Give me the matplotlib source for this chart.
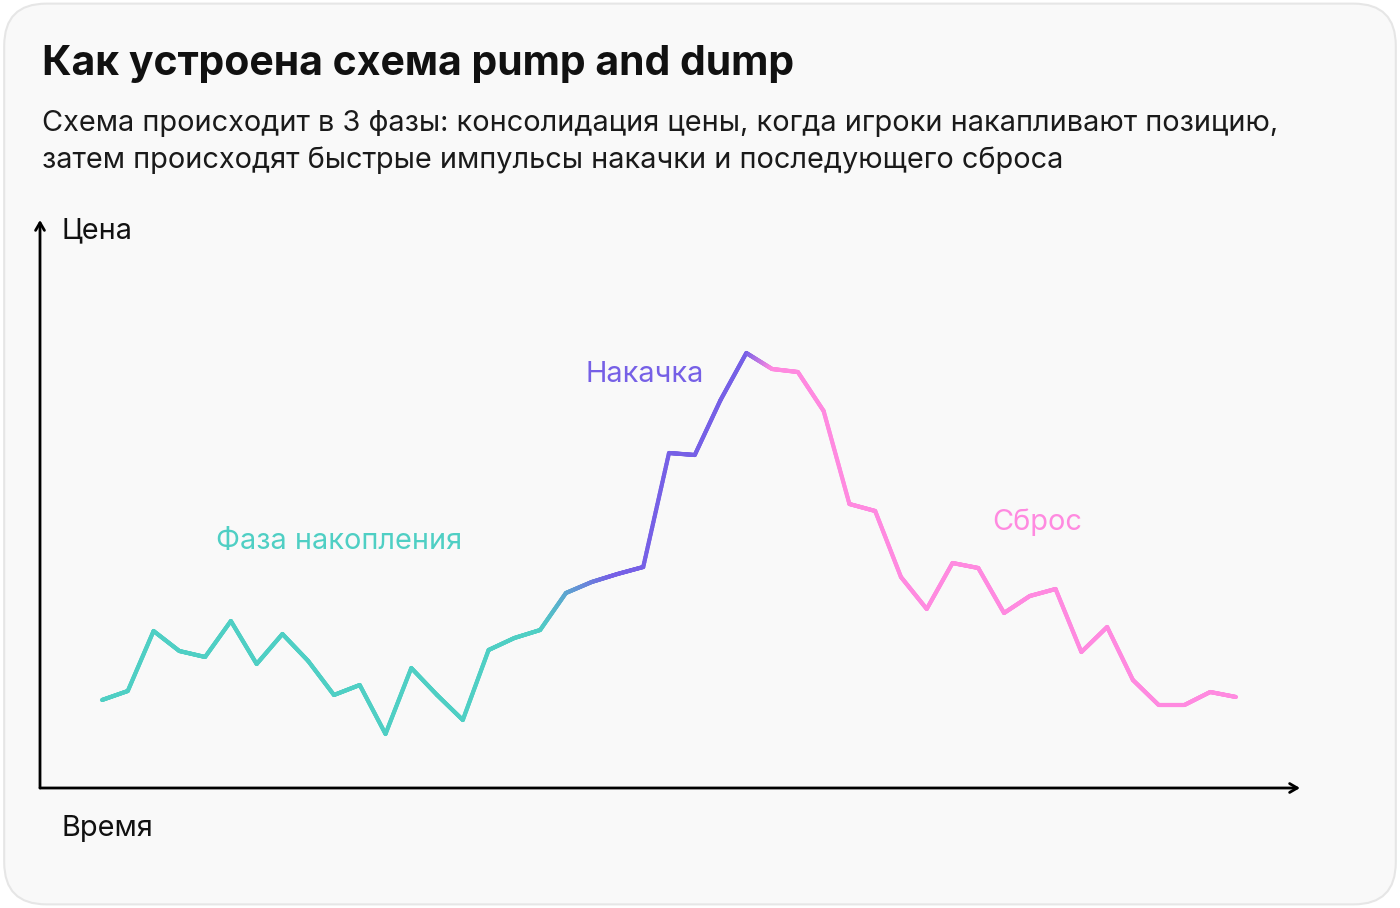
import matplotlib

matplotlib.use("Agg")
import matplotlib.pyplot as plt
import numpy as np
from matplotlib.collections import LineCollection
from matplotlib.colors import to_rgb
from matplotlib.patches import FancyBboxPatch

plt.rcParams["font.family"] = ["Inter", "DejaVu Sans"]

title = "Как устроена схема pump and dump"
subtitle = ("Схема происходит в 3 фазы: консолидация цены, когда игроки накапливают позицию,\n"
            "затем происходят быстрые импульсы накачки и последующего сброса")
y_label = "Цена"
x_label = "Время"

# price path (arbitrary units), one point per time step
price = [8.8, 9.7, 15.7, 13.7, 13.1, 16.7, 12.4, 15.4, 12.7, 9.3,
         10.3, 5.4, 12.0, 9.3, 6.8, 13.8, 15.0, 15.8, 19.5, 20.6,
         21.4, 22.1, 33.5, 33.3, 38.8, 43.5, 41.9, 41.6, 37.7, 28.4,
         27.7, 21.1, 17.9, 22.5, 22.0, 17.5, 19.2, 19.9, 13.6, 16.1,
         10.8, 8.3, 8.3, 9.6, 9.1]

phase_names = ["Фаза накопления", "Накачка", "Сброс"]
phase_colors = ["#4fcfc4", "#7660e6", "#ff8ae0"]
# colour stops along the time axis: (step, colour index)
color_stops = [(0, 0), (17, 0), (19.8, 1), (25, 1), (26, 2), (44, 2)]
phase_label_pos = [(9.2, 24.6), (21.05, 41.3), (36.3, 26.6)]

fig = plt.figure(figsize=(14, 9.08), dpi=100)
fig.patch.set_facecolor("white")
card = FancyBboxPatch((0.003, 0.004), 0.994, 0.992,
                      boxstyle="round,pad=0,rounding_size=0.03",
                      transform=fig.transFigure, facecolor="#f9f9f9",
                      edgecolor="#e6e6e6", linewidth=1.5, mutation_aspect=1400 / 908,
                      zorder=-5)
fig.patches.append(card)

fig.text(42 / 1400, 1 - 64 / 908, title, fontsize=29.5, fontweight="bold",
         color="#111111", va="center", ha="left")
fig.text(42 / 1400, 1 - 142 / 908, subtitle, fontsize=20.8, color="#1a1a1a",
         va="center", ha="left", linespacing=1.42)

ax = fig.add_axes([40 / 1400, 120 / 908, 1260 / 1400, 568 / 908])
ax.patch.set_visible(False)
x = np.arange(len(price))
ax.set_xlim(-62 / 25.77, 44 + 64 / 25.77)
ax.set_ylim(0, 56.8)
for s in ax.spines.values():
    s.set_visible(False)
ax.set_xticks([])
ax.set_yticks([])

# gradient line: split each segment into short pieces, colour by time position
stop_x = [s[0] for s in color_stops]
stop_rgb = np.array([to_rgb(phase_colors[s[1]]) for s in color_stops])
xs = np.linspace(x[0], x[-1], 2000)
fine_x = np.unique(np.concatenate([xs, x]))
fine_y = np.interp(fine_x, x, price)
pts = np.column_stack([fine_x, fine_y])
segs = np.stack([pts[:-1], pts[1:]], axis=1)
mid = (fine_x[:-1] + fine_x[1:]) / 2
cols = np.column_stack([np.interp(mid, stop_x, stop_rgb[:, i]) for i in range(3)])
lc = LineCollection(segs, colors=cols, linewidths=3.0, capstyle="round", joinstyle="round")
ax.add_collection(lc)

for name, col, (px, py) in zip(phase_names, phase_colors, phase_label_pos):
    ax.text(px, py, name, color=col, fontsize=20.8, ha="center", va="center")

# axes as arrows
arrow = dict(arrowstyle="->,head_length=0.55,head_width=0.32", color="black", lw=2.0,
             shrinkA=0, shrinkB=0)
ax.annotate("", xy=(0, 1), xytext=(0, 0), xycoords="axes fraction", arrowprops=arrow)
ax.annotate("", xy=(1, 0), xytext=(0, 0), xycoords="axes fraction", arrowprops=arrow)

fig.text(62 / 1400, 1 - 231 / 908, y_label, fontsize=20.8, color="#111111",
         va="center", ha="left")
fig.text(62 / 1400, 1 - 829 / 908, x_label, fontsize=20.8, color="#111111",
         va="center", ha="left")

fig.savefig("out.png", dpi=100, facecolor=fig.get_facecolor())
